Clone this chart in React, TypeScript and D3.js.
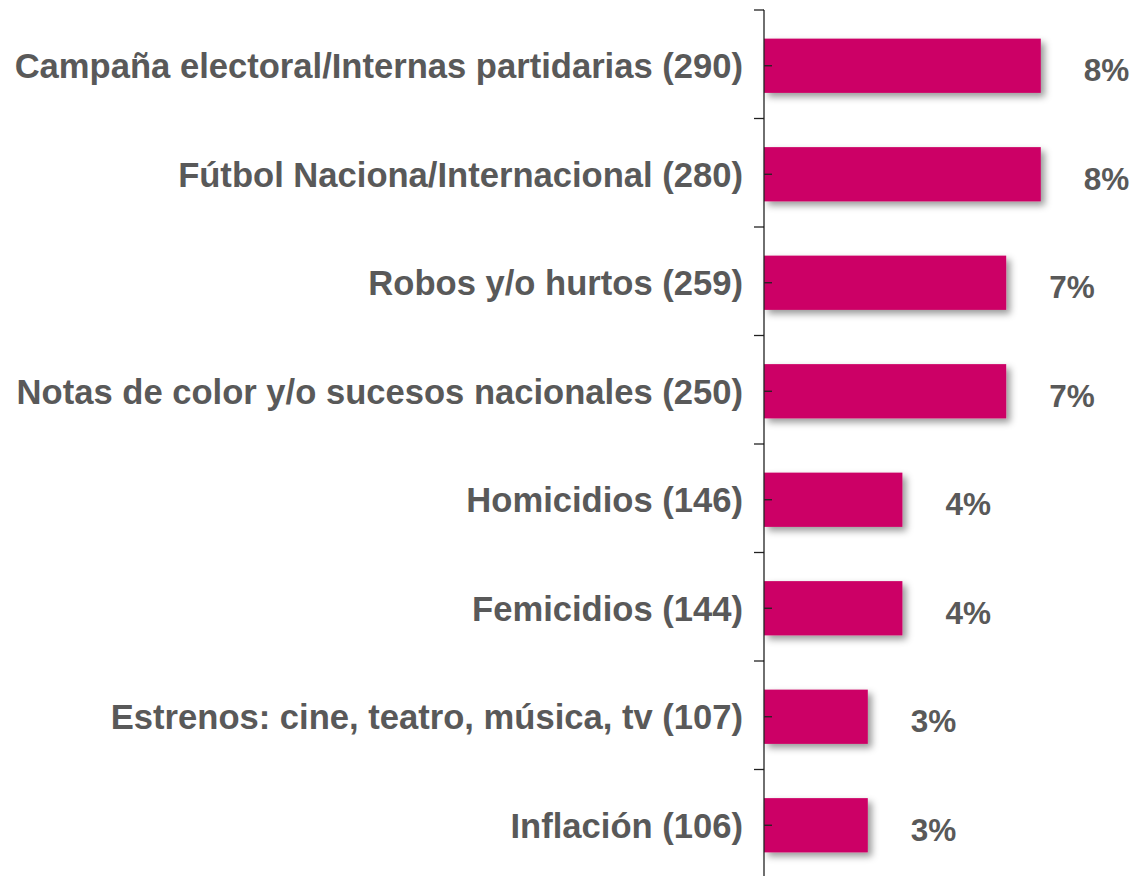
import * as d3 from "d3";
import { useEffect, useRef } from "react";

const categories = [
  "Campaña electoral/Internas partidarias (290)",
  "Fútbol Naciona/Internacional (280)",
  "Robos y/o hurtos (259)",
  "Notas de color y/o sucesos nacionales (250)",
  "Homicidios (146)",
  "Femicidios (144)",
  "Estrenos: cine, teatro, música, tv (107)",
  "Inflación (106)",
];
const percents = [8, 8, 7, 7, 4, 4, 3, 3];

export default function App() {
  const ref = useRef<SVGSVGElement>(null);
  const w = 1134;
  const h = 876;

  useEffect(() => {
    const svg = d3.select(ref.current);
    svg.selectAll("*").remove();

    const axisX = 764;
    const top = 10;
    const font = "Arial, 'Liberation Sans', sans-serif";
    const grey = "#595959";

    const y = d3.scaleBand<string>()
      .domain(categories)
      .range([top + 1.5, top + 1.5 + 868])
      .paddingInner(0.5)
      .paddingOuter(0.25);

    // band edges for the outer ticks
    const step = y.step();
    const edges = d3.range(categories.length + 1).map(i => top + i * step);

    const x = d3.scaleLinear().domain([0, 10]).range([axisX, axisX + 346]);

    const defs = svg.append("defs");
    const f = defs.append("filter").attr("id", "shadow")
      .attr("x", "-10%").attr("y", "-20%").attr("width", "130%").attr("height", "160%");
    f.append("feDropShadow")
      .attr("dx", 4).attr("dy", 4).attr("stdDeviation", 3.5)
      .attr("flood-color", "#000").attr("flood-opacity", 0.4);

    svg.append("g")
      .selectAll("rect")
      .data(categories)
      .join("rect")
      .attr("x", x(0))
      .attr("y", d => y(d)!)
      .attr("width", (d, i) => x(percents[i]) - x(0))
      .attr("height", y.bandwidth())
      .attr("fill", "#CC0066")
      .attr("filter", "url(#shadow)");

    // axis
    const ax = svg.append("g").attr("stroke", "#222").attr("stroke-width", 1.3);
    ax.append("line").attr("x1", axisX).attr("x2", axisX).attr("y1", top).attr("y2", h);
    ax.selectAll(".outer").data(edges).join("line")
      .attr("x1", axisX - 10).attr("x2", axisX)
      .attr("y1", d => d).attr("y2", d => d);
    ax.selectAll(".inner").data(categories).join("line")
      .attr("x1", axisX).attr("x2", axisX + 8)
      .attr("y1", d => y(d)! + y.bandwidth() / 2)
      .attr("y2", d => y(d)! + y.bandwidth() / 2);

    svg.append("g")
      .selectAll("text")
      .data(categories)
      .join("text")
      .attr("x", axisX - 21)
      .attr("y", d => y(d)! + y.bandwidth() / 2)
      .attr("dy", "0.36em")
      .attr("text-anchor", "end")
      .attr("font-family", font)
      .attr("font-weight", "bold")
      .attr("font-size", 34.6)
      .attr("fill", grey)
      .text(d => d);

    svg.append("g")
      .selectAll("text")
      .data(categories)
      .join("text")
      .attr("x", (d, i) => x(percents[i]) + 43)
      .attr("y", d => y(d)! + y.bandwidth() / 2 + 4)
      .attr("dy", "0.36em")
      .attr("font-family", font)
      .attr("font-weight", "bold")
      .attr("font-size", 31.5)
      .attr("fill", grey)
      .text((d, i) => percents[i] + "%");
  }, []);

  return (
    <svg
      ref={ref}
      width={w}
      height={h}
      viewBox={`0 0 ${w} ${h}`}
      style={{ position: "absolute", left: 0, top: 0, background: "#fff" }}
    />
  );
}
